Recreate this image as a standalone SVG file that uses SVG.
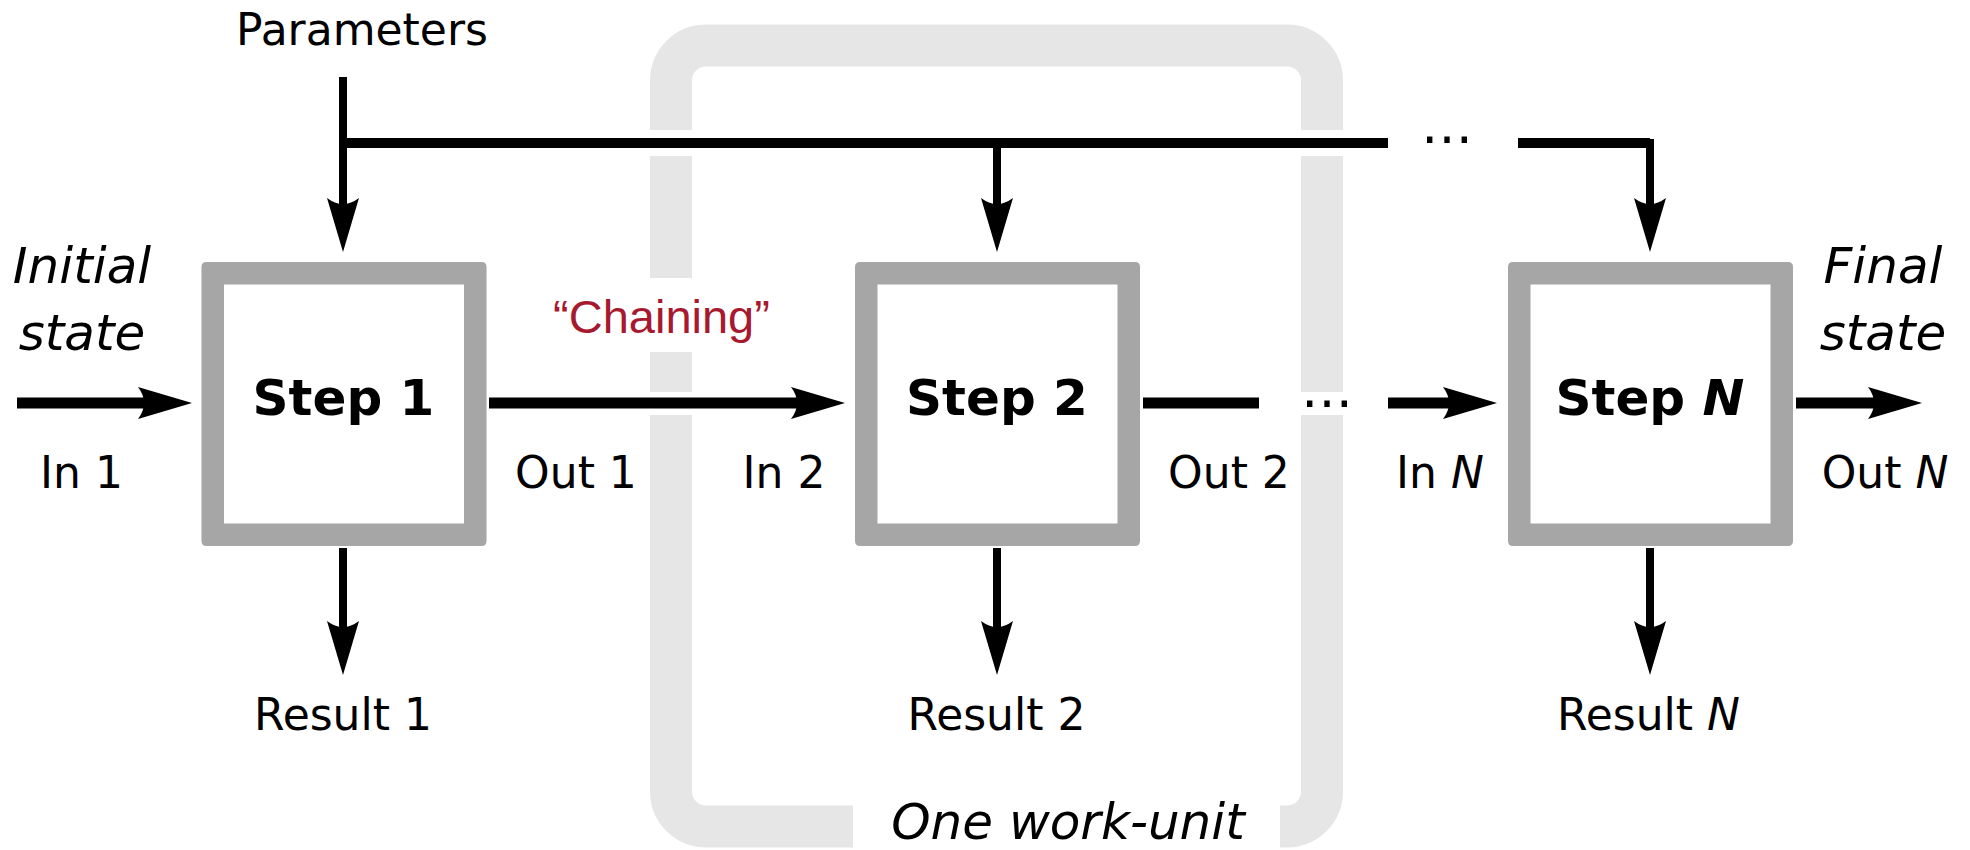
<svg xmlns="http://www.w3.org/2000/svg" width="1970" height="850" viewBox="0 0 1970 850">
  <defs>
    <style>
      .lbl { font-family: "DejaVu Sans", "Liberation Sans", sans-serif; font-size: 44px; fill: #000; text-anchor: middle; }
      .it { font-family: "DejaVu Sans", "Liberation Sans", sans-serif; font-style: italic; font-size: 50px; fill: #000; text-anchor: middle; }
      .step { font-family: "DejaVu Sans", "Liberation Sans", sans-serif; font-weight: bold; font-size: 50px; fill: #000; text-anchor: middle; }
      .dots { font-family: "DejaVu Sans", sans-serif; font-size: 52px; fill: #000; text-anchor: middle; }
      .box { fill: #a6a6a6; fill-rule: evenodd; }
      .wire { fill: none; stroke: #000; stroke-linejoin: miter; }
      .main { stroke-width: 11; }
      .bus { stroke-width: 10; }
      .thin { stroke-width: 8; }
      .gap { fill: #fff; }
    </style>
    <marker id="head" viewBox="-56 -18 58 36" markerWidth="58" markerHeight="36" refX="-42" refY="0" orient="auto" markerUnits="userSpaceOnUse">
      <path d="M0,0 L-54,-16 Q-42,0 -54,16 Z" fill="#000"/>
    </marker>
  </defs>

  <rect width="1970" height="850" fill="#fff"/>

  <!-- work-unit frame -->
  <g id="work-unit">
    <rect x="671" y="45.5" width="651" height="781" rx="35" ry="35" fill="none" stroke="#e6e6e6" stroke-width="42"/>
    <rect class="gap" x="640" y="130" width="70" height="26"/>
    <rect class="gap" x="1290" y="130" width="70" height="26"/>
    <rect class="gap" x="640" y="392" width="70" height="23"/>
    <rect class="gap" x="1290" y="392" width="70" height="23"/>
    <rect class="gap" x="853" y="795" width="427" height="55"/>
    <text class="it" x="1068" y="839">One work-unit</text>
  </g>

  <!-- label backing for the chaining note -->
  <g id="chaining">
    <rect class="gap" x="518" y="278" width="291" height="74"/>
    <text x="661.5" y="333" font-family="Liberation Sans, Arial, sans-serif" font-size="47" fill="#a6192e" text-anchor="middle">“Chaining”</text>
  </g>

  <!-- connectors -->
  <g id="connectors">
    <!-- parameter bus -->
    <path class="wire thin" d="M343,77 V210" marker-end="url(#head)"/>
    <path class="wire bus" d="M339,143 H1388"/>
    <path class="wire thin" d="M997,143 V210" marker-end="url(#head)"/>
    <path class="wire bus" d="M1518,143 H1650"/>
    <path class="wire thin" d="M1650,139 V210" marker-end="url(#head)"/>
    <!-- state chain -->
    <path class="wire main" d="M17,403 H150" marker-end="url(#head)"/>
    <path class="wire main" d="M489,403 H803" marker-end="url(#head)"/>
    <path class="wire main" d="M1143,403 H1259"/>
    <path class="wire main" d="M1388,403 H1455" marker-end="url(#head)"/>
    <path class="wire main" d="M1796,403 H1880" marker-end="url(#head)"/>
    <!-- results -->
    <path class="wire thin" d="M343,548 V633" marker-end="url(#head)"/>
    <path class="wire thin" d="M997,548 V633" marker-end="url(#head)"/>
    <path class="wire thin" d="M1650,548 V633" marker-end="url(#head)"/>
    <text class="dots" x="1447" y="143">…</text>
    <text class="dots" x="1327" y="406.5">…</text>
  </g>

  <g id="step1">
    <path class="box" d="M206.5,262 H481.5 Q486.5,262 486.5,267 V541 Q486.5,546 481.5,546 H206.5 Q201.5,546 201.5,541 V267 Q201.5,262 206.5,262 Z M224,284.5 V523.5 H464 V284.5 Z"/>
    <text class="step" x="343.5" y="415">Step 1</text>
  </g>

  <g id="step2">
    <path class="box" d="M860,262 H1135 Q1140,262 1140,267 V541 Q1140,546 1135,546 H860 Q855,546 855,541 V267 Q855,262 860,262 Z M877.5,284.5 V523.5 H1117.5 V284.5 Z"/>
    <text class="step" x="997" y="415">Step 2</text>
  </g>

  <g id="stepN">
    <path class="box" d="M1513,262 H1788 Q1793,262 1793,267 V541 Q1793,546 1788,546 H1513 Q1508,546 1508,541 V267 Q1508,262 1513,262 Z M1530.5,284.5 V523.5 H1770.5 V284.5 Z"/>
    <text class="step" x="1650" y="415">Step <tspan font-style="italic">N</tspan></text>
  </g>

  <g id="labels">
    <text class="lbl" x="362" y="45" font-size="47">Parameters</text>
    <text class="it" x="82" y="283">Initial</text>
    <text class="it" x="82" y="350">state</text>
    <text class="it" x="1883" y="283">Final</text>
    <text class="it" x="1883" y="350">state</text>
    <text class="lbl" x="81.5" y="488">In 1</text>
    <text class="lbl" x="576" y="488">Out 1</text>
    <text class="lbl" x="784" y="488">In 2</text>
    <text class="lbl" x="1229" y="488">Out 2</text>
    <text class="lbl" x="1440" y="488">In <tspan font-style="italic">N</tspan></text>
    <text class="lbl" x="1885" y="488">Out <tspan font-style="italic">N</tspan></text>
    <text class="lbl" x="343" y="730">Result 1</text>
    <text class="lbl" x="996.5" y="730">Result 2</text>
    <text class="lbl" x="1648.5" y="730">Result <tspan font-style="italic">N</tspan></text>
  </g>
</svg>
